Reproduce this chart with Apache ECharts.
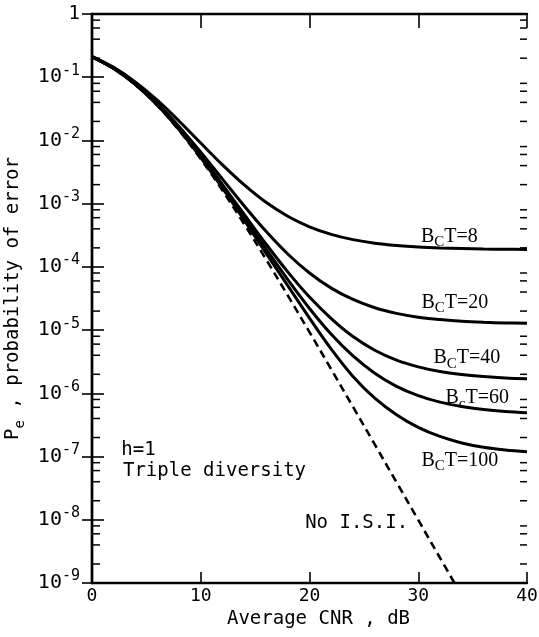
<!DOCTYPE html>
<html>
<head>
<meta charset="utf-8">
<script src="https://cdn.jsdelivr.net/npm/echarts@6/dist/echarts.min.js"></script>
<style>
  html, body { margin: 0; padding: 0; background: #fff; }
  #chart { width: 539px; height: 637px; }
</style>
</head>
<body>
<div id="chart"></div>
<script>
// Average CNR (dB) sample points shared by the B_cT curves
const cnrDb = [0, 2, 4, 6, 8, 10, 12, 14, 16, 18, 20, 22, 24, 26, 28, 30, 32, 34, 36, 38, 40];

// Error probability with intersymbol interference, one list per B_cT value
const peBcT8 = [0.2145, 0.1430, 0.0837, 0.0433, 0.0203, 9.10e-3, 4.11e-3, 1.98e-3, 1.05e-3, 6.33e-4, 4.31e-4,
  3.27e-4, 2.70e-4, 2.37e-4, 2.18e-4, 2.06e-4, 1.99e-4, 1.95e-4, 1.92e-4, 1.90e-4, 1.89e-4];
const peBcT20 = [0.2117, 0.1390, 0.0789, 0.0387, 0.01664, 6.52e-3, 2.44e-3, 9.18e-4, 3.65e-4, 1.60e-4, 8.01e-5,
  4.61e-5, 3.05e-5, 2.26e-5, 1.84e-5, 1.60e-5, 1.47e-5, 1.38e-5, 1.33e-5, 1.30e-5, 1.28e-5];
const peBcT40 = [0.2108, 0.1377, 0.0774, 0.0372, 0.01552, 5.78e-3, 2.00e-3, 6.74e-4, 2.30e-4, 8.34e-5, 3.33e-5,
  1.52e-5, 7.90e-6, 4.80e-6, 3.35e-6, 2.62e-6, 2.21e-6, 1.98e-6, 1.84e-6, 1.75e-6, 1.70e-6];
const peBcT60 = [0.2105, 0.1372, 0.0769, 0.0367, 0.01514, 5.54e-3, 1.86e-3, 6.00e-4, 1.92e-4, 6.30e-5, 2.20e-5,
  8.60e-6, 3.90e-6, 2.08e-6, 1.29e-6, 9.20e-7, 7.25e-7, 6.18e-7, 5.55e-7, 5.17e-7, 4.95e-7];
const peBcT100 = [0.2102, 0.1369, 0.0765, 0.0364, 0.01486, 5.36e-3, 1.76e-3, 5.49e-4, 1.65e-4, 5.05e-5, 1.55e-5,
  5.00e-6, 1.85e-6, 8.40e-7, 4.60e-7, 2.90e-7, 2.08e-7, 1.64e-7, 1.40e-7, 1.27e-7, 1.19e-7];

// Reference curve without intersymbol interference (dashed)
const noIsiDb = [0, 2, 4, 6, 8, 10, 12, 14, 16, 18, 20, 22, 24, 26, 28, 30, 32, 33.33];
const peNoIsi = [0.2099, 0.1364, 0.0759, 0.0358, 0.01443, 5.09e-3, 1.614e-3, 4.74e-4, 1.32e-4, 3.54e-5, 9.29e-6,
  2.40e-6, 6.12e-7, 1.555e-7, 3.93e-8, 9.93e-9, 2.50e-9, 1.0e-9];

// Axis ticks
const xTicks = [0, 10, 20, 30, 40];
const yExponents = [0, -1, -2, -3, -4, -5, -6, -7, -8, -9];
const minorMultipliers = [2, 4, 6, 8];

// Curve annotations: text and anchor in data coordinates [dB, Pe]
const curveLabels = [
  { key: 'C', tail: 'T=8',   at: [30.25, 3.0e-4] },
  { key: 'C', tail: 'T=20',  at: [30.3, 2.7e-5] },
  { key: 'C', tail: 'T=40',  at: [31.4, 3.6e-6] },
  { key: 'c', tail: 'T=60',  at: [32.5, 8.4e-7] },
  { key: 'C', tail: 'T=100', at: [30.3, 8.5e-8] }
];
const noteLabels = [
  { text: 'No I.S.I.',         at: [19.6, 8.8e-9] },
  { text: 'h=1',               at: [2.7, 1.25e-7] },
  { text: 'Triple diversity',  at: [2.85, 6.0e-8] }
];

const MONO = "'DejaVu Sans Mono', 'Liberation Mono', monospace";
const SERIF = "'Liberation Serif', 'DejaVu Serif', serif";

const pairs = (xs, ys) => xs.map((x, i) => [x, ys[i]]);

const solid = (name, values) => ({
  name, type: 'line', data: pairs(cnrDb, values), smooth: 0.35, symbol: 'none',
  lineStyle: { color: '#000', width: 3 }
});

const chart = echarts.init(document.getElementById('chart'), null, { renderer: 'canvas' });

const axisLine = { show: true, lineStyle: { color: '#000', width: 2.4 } };

const option = {
  backgroundColor: '#fff',
  animation: false,
  grid: { left: 92, right: 12, top: 14, bottom: 54, containLabel: false, outerBoundsMode: 'none' },
  xAxis: [
    {
      type: 'value', min: 0, max: 40, interval: 10, position: 'bottom',
      axisLine, splitLine: { show: false },
      axisTick: { inside: true, length: 11, lineStyle: { color: '#000', width: 1.6 } },
      axisLabel: {
        color: '#000', fontFamily: MONO, fontSize: 18, margin: 4,
        formatter: v => (xTicks.includes(v) ? String(v) : '')
      },
      name: 'Average CNR , dB', nameLocation: 'middle', nameGap: 16,
      nameTextStyle: { color: '#000', fontFamily: MONO, fontSize: 19, padding: [0, 0, 0, 18] }
    },
    {
      type: 'value', min: 0, max: 40, interval: 10, position: 'top',
      axisLine, splitLine: { show: false }, axisLabel: { show: false },
      axisTick: { inside: true, length: 14, lineStyle: { color: '#000', width: 1.6 } }
    }
  ],
  yAxis: [
    {
      type: 'log', logBase: 10, min: 1e-9, max: 1, interval: 1, position: 'left',
      axisLine, splitLine: { show: false },
      axisTick: { inside: true, length: 12, lineStyle: { color: '#000', width: 1.6 } },
      axisLabel: {
        color: '#000', fontFamily: MONO, margin: 12,
        formatter: v => {
          const e = Math.round(Math.log10(v));
          return e === 0 ? '{one|1}' : '{b|10}{s|' + e + '}';
        },
        rich: {
          one: { fontFamily: MONO, fontSize: 19, color: '#000', lineHeight: 28 },
          b: { fontFamily: MONO, fontSize: 20, color: '#000', lineHeight: 28 },
          s: { fontFamily: MONO, fontSize: 15, color: '#000', verticalAlign: 'top', lineHeight: 14 }
        }
      },
      name: '{p|P}{e|e}{t| , probability of error}',
      nameLocation: 'middle', nameRotate: 90, nameGap: 58,
      nameTextStyle: {
        color: '#000',
        rich: {
          p: { fontFamily: MONO, fontSize: 19, color: '#000', lineHeight: 28 },
          e: { fontFamily: MONO, fontSize: 14, color: '#000', verticalAlign: 'bottom', lineHeight: 14 },
          t: { fontFamily: MONO, fontSize: 19, color: '#000', lineHeight: 28 }
        }
      }
    },
    {
      type: 'log', logBase: 10, min: 1e-9, max: 1, interval: 1, position: 'right',
      axisLine, splitLine: { show: false }, axisLabel: { show: false },
      axisTick: { inside: true, length: 10, lineStyle: { color: '#000', width: 1.6 } }
    }
  ],
  series: [
    solid('BcT=8', peBcT8),
    solid('BcT=20', peBcT20),
    solid('BcT=40', peBcT40),
    solid('BcT=60', peBcT60),
    solid('BcT=100', peBcT100),
    {
      name: 'No I.S.I.', type: 'line', data: pairs(noIsiDb, peNoIsi), smooth: 0.35, symbol: 'none',
      lineStyle: { color: '#000', width: 2.6, type: [8, 5] }
    }
  ]
};

chart.setOption(option);

const toPx = at => chart.convertToPixel({ xAxisIndex: 0, yAxisIndex: 0 }, at);
const graphics = [];

// Log-spaced minor ticks (2, 4, 6, 8 per decade) on both vertical frame edges
yExponents.slice(1).forEach(e => {
  minorMultipliers.forEach(m => {
    const v = m * Math.pow(10, e);
    const l = toPx([0, v]);
    const r = toPx([40, v]);
    graphics.push({
      type: 'line', silent: true, z: 10,
      shape: { x1: l[0], y1: l[1], x2: l[0] + 8, y2: l[1] },
      style: { stroke: '#000', lineWidth: 1.5 }
    });
    graphics.push({
      type: 'line', silent: true, z: 10,
      shape: { x1: r[0] - 7, y1: r[1], x2: r[0], y2: r[1] },
      style: { stroke: '#000', lineWidth: 1.5 }
    });
  });
});

// Curve annotations placed from their data-space anchors
curveLabels.forEach(lab => {
  const p = toPx(lab.at);
  graphics.push({
    type: 'text', x: p[0], y: p[1], silent: true,
    style: {
      text: '{b|B}{s|' + lab.key + '}{b|' + lab.tail + '}',
      verticalAlign: 'middle', align: 'left',
      rich: {
        b: { fontFamily: SERIF, fontSize: 20, fill: '#000', lineHeight: 26 },
        s: { fontFamily: SERIF, fontSize: 15, fill: '#000', verticalAlign: 'bottom', lineHeight: 13 }
      }
    }
  });
});
noteLabels.forEach(lab => {
  const p = toPx(lab.at);
  graphics.push({
    type: 'text', x: p[0], y: p[1], silent: true,
    style: {
      text: lab.text, fill: '#000', verticalAlign: 'middle', align: 'left',
      font: '19px ' + MONO
    }
  });
});
chart.setOption({ graphic: graphics });
</script>
</body>
</html>
